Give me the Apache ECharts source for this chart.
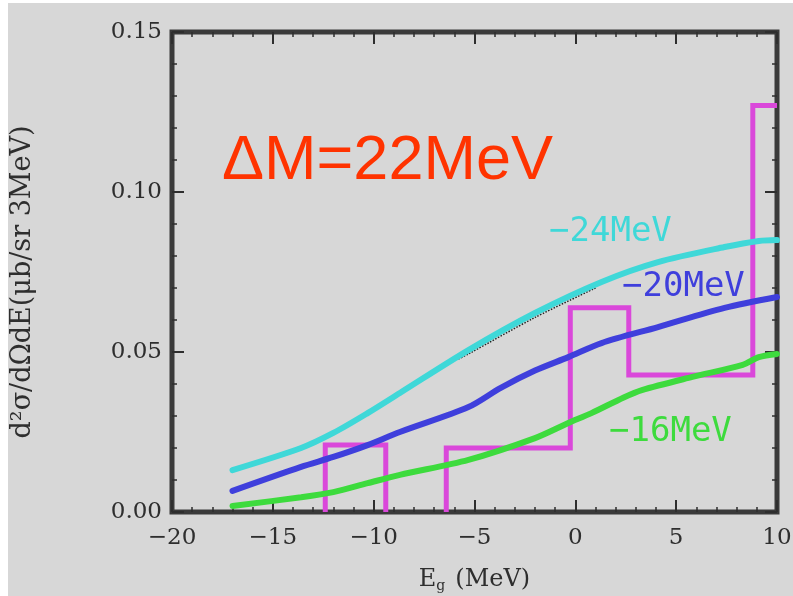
<!DOCTYPE html>
<html>
<head>
<meta charset="utf-8">
<script src="https://cdn.jsdelivr.net/npm/echarts@6/dist/echarts.min.js"></script>
<style>
  html, body { margin: 0; padding: 0; background: #fff; }
  #chart { width: 793px; height: 596px; }
</style>
</head>
<body>
<div id="chart"></div>
<script>
// curves: [E_g (MeV), d2sigma]
var curve24 = [[-17, 0.0131], [-13.6, 0.0200], [-12, 0.0247], [-10.3, 0.0309], [-8.7, 0.0372],
  [-5.3, 0.0506], [-2, 0.0622], [1.3, 0.0719], [4.1, 0.0781], [7.4, 0.0828], [9.1, 0.0847], [10, 0.0850]];
var curve20 = [[-17, 0.0066], [-13.6, 0.0141], [-12, 0.0172], [-10.3, 0.0209], [-8.7, 0.0250],
  [-5.3, 0.0328], [-3.7, 0.0388], [-2, 0.0442], [-0.35, 0.0484], [1.3, 0.0528], [4.1, 0.0578],
  [7.4, 0.0638], [10, 0.0672]];
var curve16 = [[-17, 0.0019], [-13.6, 0.0046], [-12, 0.0062], [-10.3, 0.0090], [-8.7, 0.0116],
  [-5.3, 0.0163], [-2, 0.0231], [-0.35, 0.0278], [0.8, 0.0309], [2.4, 0.0358], [3.3, 0.0381],
  [5.8, 0.0422], [8.3, 0.0460], [9.1, 0.0484], [10, 0.0494]];
// black curve peeking out under the cyan one
var blackPiece = [[-5.8, 0.0478], [-5.3, 0.0494], [-2, 0.0608], [1.0, 0.0700]];

// histogram (data)
var histEdges = [-12.4, -9.4, -6.4, -0.25, 2.65, 8.8, 10];
var histValues = [0.0209, 0, 0.0200, 0.0638, 0.0428, 0.127];

var xMin = -20, xMax = 10, xStep = 5;
var yMin = 0, yMax = 0.15, yStep = 0.05;

var steps = [];
var prev = 0;
histValues.forEach(function (v, i) {
  var x0 = histEdges[i], x1 = histEdges[i + 1];
  steps.push([x0, prev], [x0, v]);
  if (v === 0) {
    steps.push([x0, '-']);
  } else {
    steps.push([x1, v]);
  }
  prev = v;
});

var serif = 'DejaVu Serif';
var ink = '#2e2e2e';

function xAxisOpt(showLabels) {
  return {
    type: 'value', min: xMin, max: xMax, interval: xStep,
    position: showLabels ? 'bottom' : 'top',
    axisLine: { show: false, onZero: false },
    splitLine: { show: false },
    axisTick: { show: true, inside: true, length: 12, lineStyle: { color: ink, width: 2 } },
    minorTick: { show: true, splitNumber: 5, length: 5, lineStyle: { color: ink, width: 1.5 } },
    axisLabel: {
      show: showLabels, margin: 15, color: ink, fontFamily: serif, fontSize: 23,
      formatter: function (v) { return String(v).replace('-', '\u2212'); }
    },
    name: showLabels ? '{e|E}{g|g}   {e|(MeV)}' : '',
    nameLocation: 'middle', nameGap: 55,
    nameTextStyle: {
      rich: {
        e: { fontFamily: serif, fontSize: 24, color: ink },
        g: { fontFamily: serif, fontSize: 14, color: ink, verticalAlign: 'bottom', padding: [12, 0, 0, 0] }
      }
    }
  };
}

function yAxisOpt(showLabels) {
  return {
    type: 'value', min: yMin, max: yMax, interval: yStep,
    position: showLabels ? 'left' : 'right',
    axisLine: { show: false, onZero: false },
    splitLine: { show: false },
    axisTick: { show: true, inside: true, length: 12, lineStyle: { color: ink, width: 2 } },
    minorTick: { show: true, splitNumber: 5, length: 5, lineStyle: { color: ink, width: 1.5 } },
    axisLabel: {
      show: showLabels, margin: 10, color: ink, fontFamily: serif, fontSize: 23,
      formatter: function (v) { return v.toFixed(2); }
    },
    name: showLabels ? 'd\u00b2\u03c3/d\u03a9dE(\u03bcb/sr 3MeV)' : '',
    nameLocation: 'middle', nameGap: 136,
    nameTextStyle: { fontFamily: serif, fontSize: 27, color: ink, padding: [0, 20, 0, 0] }
  };
}

function curve(name, data, color) {
  return {
    name: name, type: 'line', data: data, showSymbol: false,
    smooth: 0.3,
    lineStyle: { color: color, width: 6, cap: 'round' },
    z: 3
  };
}

var chart = echarts.init(document.getElementById('chart'));
chart.setOption({
  backgroundColor: '#fff',
  animation: false,
  grid: {
    left: 172, right: 16, top: 32, bottom: 84,
    outerBoundsMode: 'none',
    show: true, borderColor: '#3a3a3a', borderWidth: 5, backgroundColor: 'transparent'
  },
  xAxis: [xAxisOpt(true), xAxisOpt(false)],
  yAxis: [yAxisOpt(true), yAxisOpt(false)],
  series: [
    {
      name: 'black', type: 'line', data: blackPiece, showSymbol: false, smooth: 0.3,
      lineStyle: { color: '#222', width: 1.5, type: 'dotted' }, z: 2
    },
    curve('-24MeV', curve24, '#3fd8d8'),
    curve('-20MeV', curve20, '#3f3fdc'),
    curve('-16MeV', curve16, '#3ddb3d'),
    {
      name: 'data', type: 'line', data: steps, showSymbol: false, connectNulls: false,
      lineStyle: { color: '#da48da', width: 5, join: 'miter', cap: 'butt' },
      z: 2
    }
  ],
  graphic: [
    { type: 'rect', left: 8, top: 3, z: -100, shape: { width: 785, height: 593 }, style: { fill: '#d7d7d7' } },
    {
      type: 'text', x: 222, y: 162, z: 10,
      style: { text: '\u0394M=22MeV', fill: '#ff3300', font: '63px "Liberation Sans"', verticalAlign: 'middle' }
    },
    {
      type: 'text', x: 549, y: 232, z: 10,
      style: { text: '\u221224MeV', fill: '#3fd8d8', font: '34px "DejaVu Sans Mono"', verticalAlign: 'middle' }
    },
    {
      type: 'text', x: 622, y: 287, z: 10,
      style: { text: '\u221220MeV', fill: '#3f3fdc', font: '34px "DejaVu Sans Mono"', verticalAlign: 'middle' }
    },
    {
      type: 'text', x: 609, y: 432, z: 10,
      style: { text: '\u221216MeV', fill: '#3ddb3d', font: '34px "DejaVu Sans Mono"', verticalAlign: 'middle' }
    }
  ]
});
</script>
</body>
</html>
